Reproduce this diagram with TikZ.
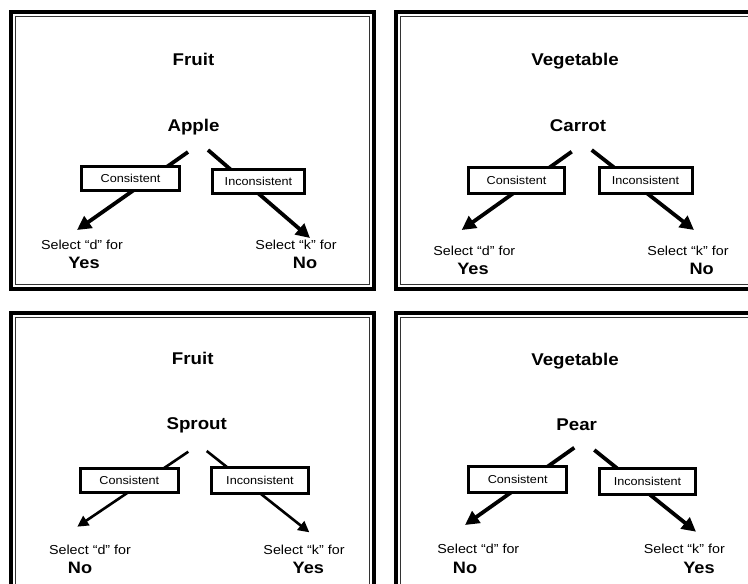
\documentclass[tikz,border=0pt]{standalone}
\usepackage{fontspec}
\setmainfont[FakeStretch=1.1]{Liberation Sans}
\usetikzlibrary{arrows.meta}
\begin{document}
\begin{tikzpicture}[x=1pt,y=-1pt,
  frameout/.style={line width=4.5pt,draw=black},
  framein/.style={line width=1.2pt,draw=black!80},
  title/.style={anchor=base,font=\fontsize{17}{20}\selectfont\bfseries,inner sep=0pt},
  sel/.style={anchor=base,font=\fontsize{13}{15}\selectfont,inner sep=0pt},
  ans/.style={anchor=base,font=\fontsize{16.5}{19}\selectfont\bfseries,inner sep=0pt},
  cbox/.style={draw,line width=3pt,fill=white,inner sep=0pt,font=\fontsize{11.5}{13}\selectfont},
  arr/.style={line width=3.8pt,-{Triangle[length=14pt,width=14pt]}},
  arrthin/.style={line width=2.6pt,-{Triangle[length=11pt,width=11pt]}}]
\useasboundingbox (0,0) rectangle (748,584);
\clip (0,0) rectangle (748,584);
\fill[white] (0,0) rectangle (748,584);

% frames
\draw[frameout] (11,12) rectangle (374,289);
\draw[framein] (15.5,16.5) rectangle (369.5,284.8);
\draw[frameout] (396,12) rectangle (759,289);
\draw[framein] (400.5,16.5) rectangle (754.5,284.8);
\draw[frameout] (11,313) rectangle (374,590);
\draw[framein] (15.5,317.5) rectangle (369.5,585.8);
\draw[frameout] (396,313) rectangle (759,590);
\draw[framein] (400.5,317.5) rectangle (754.5,585.8);

% ---------- panel 1 ----------
\node[title] (t1) at (193.5,65) {Fruit};
\node[title] (w1) at (193.5,131) {Apple};
\coordinate (l1s) at (188,152);
\coordinate (l1e) at (77,230);
\coordinate (r1s) at (208,150);
\coordinate (r1e) at (310,238);
\draw[arr] (l1s) -- (l1e);
\draw[arr] (r1s) -- (r1e);
\node[cbox,minimum width=97.5pt,minimum height=24pt] (c1) at (130.5,178.5) {Consistent};
\node[cbox,minimum width=92.5pt,minimum height=24pt] (i1) at (258.5,181) {Inconsistent};
\node[sel] (sd1) at (82,249) {Select “d” for};
\node[ans] (a1) at (84,268) {Yes};
\node[sel] (sk1) at (296,249) {Select “k” for};
\node[ans] (b1) at (305,268) {No};

% ---------- panel 2 ----------
\node[title] (t2) at (575,65) {Vegetable};
\node[title] (w2) at (578,131) {Carrot};
\coordinate (l2s) at (571.7,151.7);
\coordinate (l2e) at (461.7,230);
\coordinate (r2s) at (591.7,150);
\coordinate (r2e) at (694,230);
\draw[arr] (l2s) -- (l2e);
\draw[arr] (r2s) -- (r2e);
\node[cbox,minimum width=96pt,minimum height=26pt] (c2) at (516.5,180) {Consistent};
\node[cbox,minimum width=93pt,minimum height=26pt] (i2) at (645.5,180) {Inconsistent};
\node[sel] (sd2) at (474.3,255) {Select “d” for};
\node[ans] (a2) at (473,274) {Yes};
\node[sel] (sk2) at (688,255) {Select “k” for};
\node[ans] (b2) at (701.7,274) {No};

% ---------- panel 3 ----------
\node[title] (t3) at (192.7,364.3) {Fruit};
\node[title] (w3) at (196.7,429) {Sprout};
\coordinate (l3s) at (188.3,451.7);
\coordinate (l3e) at (77.3,526.7);
\coordinate (r3s) at (206.7,451);
\coordinate (r3e) at (309.3,532.3);
\draw[arrthin] (l3s) -- (l3e);
\draw[arrthin] (r3s) -- (r3e);
\node[cbox,minimum width=97.5pt,minimum height=24pt] (c3) at (129.3,480) {Consistent};
\node[cbox,minimum width=97.5pt,minimum height=26pt] (i3) at (260,480.7) {Inconsistent};
\node[sel] (sd3) at (90,554.3) {Select “d” for};
\node[ans] (a3) at (80,573.3) {No};
\node[sel] (sk3) at (304,554.3) {Select “k” for};
\node[ans] (b3) at (308.3,573.3) {Yes};

% ---------- panel 4 ----------
\node[title] (t4) at (575,365) {Vegetable};
\node[title] (w4) at (576.7,430.7) {Pear};
\coordinate (l4s) at (574.3,447.7);
\coordinate (l4e) at (465,525);
\coordinate (r4s) at (594.3,450);
\coordinate (r4e) at (696,531.7);
\draw[arr] (l4s) -- (l4e);
\draw[arr] (r4s) -- (r4e);
\node[cbox,minimum width=97.5pt,minimum height=26pt] (c4) at (517.7,479.3) {Consistent};
\node[cbox,minimum width=96pt,minimum height=26pt] (i4) at (647.5,481.7) {Inconsistent};
\node[sel] (sd4) at (478.3,553.3) {Select “d” for};
\node[ans] (a4) at (465,573.3) {No};
\node[sel] (sk4) at (684.3,553.3) {Select “k” for};
\node[ans] (b4) at (699,573.3) {Yes};
\end{tikzpicture}
\end{document}
